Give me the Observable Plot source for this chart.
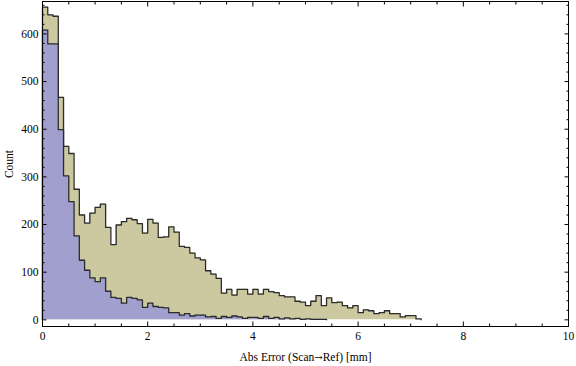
<!DOCTYPE html>
<html><head><meta charset="utf-8">
<script src="https://cdn.jsdelivr.net/npm/d3@7"></script>
<script src="https://cdn.jsdelivr.net/npm/@observablehq/plot@0.6"></script>
<style>body{margin:0;background:#fff} svg{display:block}</style>
</head><body><div id="chart"></div>
<script>
const binWidth = 0.1;
// counts per 0.1 mm bin, starting at 0
const tanCounts = [656,640,637,467,364,349,274,220,203,224,236,243,194,158,199,206,213,210,202,182,211,203,173,174,195,184,154,152,140,130,126,103,96,87,56,64,52,64,64,54,64,54,64,59,57,51,48,48,39,37,30,39,51,30,46,36,37,30,25,30,15,21,19,13,15,19,13,13,6,9,9,2];
const blueCounts = [608,579,579,399,302,248,176,125,104,88,80,88,60,47,45,35,47,45,42,26,35,28,26,25,15,15,10,13,8,10,10,6,7,3,7,5,8,6,3,5,5,3,7,3,5,2,4,2,3,1,2,1,1,1];
const xMajor = [0,2,4,6,8,10];
const xMinor = [0.5,1,1.5,2.5,3,3.5,4.5,5,5.5,6.5,7,7.5,8.5,9,9.5];
const yMajor = [0,100,200,300,400,500,600];
const yMinor = d3.range(20, 661, 20).filter(v => v % 100 !== 0);
const xLabel = "Abs Error (Scan\u2192Ref) [mm]";
const yLabel = "Count";

function stepData(counts) {
  const pts = [{x: 0, y: 0}];
  counts.forEach((c, i) => pts.push({x: i * binWidth, y: c}));
  const end = counts.length * binWidth;
  pts.push({x: end, y: counts[counts.length - 1]}, {x: end, y: 0});
  return pts;
}
const tan = stepData(tanCounts);
const blue = stepData(blueCounts);
const edge = "#2b2b2b";
const blank = () => "";

const chart = Plot.plot({
  width: 576, height: 366,
  marginLeft: 42, marginRight: 8, marginTop: 1, marginBottom: 40,
  x: {domain: [0, 10]},
  y: {domain: [-14, 668]},
  style: {fontFamily: "'Liberation Serif', 'DejaVu Serif', serif", fontSize: "11.5px", color: "#000", background: "#fff"},
  marks: [
    Plot.areaY(tan, {x: "x", y: "y", curve: "step-after", fill: "#ccc89f"}),
    Plot.lineY(tan, {x: "x", y: "y", curve: "step-after", stroke: edge, strokeWidth: 1.3}),
    Plot.areaY(blue, {x: "x", y: "y", curve: "step-after", fill: "#a09fcd"}),
    Plot.lineY(blue, {x: "x", y: "y", curve: "step-after", stroke: edge, strokeWidth: 1.3}),
    Plot.frame({stroke: "#000", strokeWidth: 1}),
    Plot.axisX({anchor: "bottom", ticks: xMajor, tickSize: -4.5, tickFormat: blank, label: null}),
    Plot.axisX({anchor: "bottom", ticks: xMinor, tickSize: -2.5, tickFormat: blank, label: null}),
    Plot.axisX({anchor: "top", ticks: xMajor, tickSize: -4.5, tickFormat: blank, label: null}),
    Plot.axisX({anchor: "top", ticks: xMinor, tickSize: -2.5, tickFormat: blank, label: null}),
    Plot.axisX({anchor: "bottom", ticks: xMajor, tickSize: 0, tickPadding: 5, label: xLabel, labelAnchor: "center", labelArrow: "none", labelOffset: 34}),
    Plot.axisY({anchor: "left", ticks: yMajor, tickSize: -4.5, tickFormat: blank, label: null}),
    Plot.axisY({anchor: "left", ticks: yMinor, tickSize: -2.5, tickFormat: blank, label: null}),
    Plot.axisY({anchor: "right", ticks: yMajor, tickSize: -4.5, tickFormat: blank, label: null}),
    Plot.axisY({anchor: "right", ticks: yMinor, tickSize: -2.5, tickFormat: blank, label: null}),
    Plot.axisY({anchor: "left", ticks: yMajor, tickSize: 0, tickPadding: 4, label: yLabel, labelAnchor: "center", labelArrow: "none", labelOffset: 38})
  ]
});
// render the arrow glyph of the x label in a font that has a full-size arrow
chart.querySelectorAll("text").forEach(t => {
  if (t.textContent === xLabel) {
    const [a, b] = xLabel.split("\u2192");
    t.textContent = "";
    const s1 = document.createElementNS("http://www.w3.org/2000/svg", "tspan"); s1.textContent = a;
    const s2 = document.createElementNS("http://www.w3.org/2000/svg", "tspan"); s2.textContent = "\u2192";
    s2.setAttribute("font-family", "'DejaVu Serif', serif"); s2.setAttribute("font-size", "10px");
    const s3 = document.createElementNS("http://www.w3.org/2000/svg", "tspan"); s3.textContent = b;
    t.append(s1, s2, s3);
  }
});
document.getElementById("chart").appendChild(chart);
</script>
</body></html>
